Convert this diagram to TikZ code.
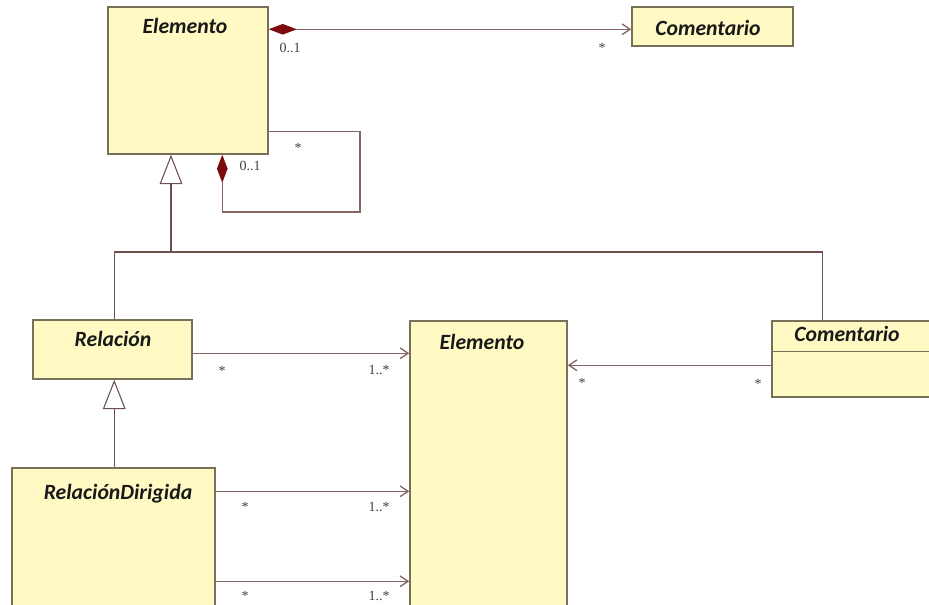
\documentclass[tikz,border=0pt]{standalone}
\usepackage{fontspec}
\setmainfont{Liberation Serif}
\newfontfamily\titlefont{Carlito}
\usetikzlibrary{arrows.meta,fit}
\definecolor{boxfill}{RGB}{255,250,195}
\definecolor{boxline}{RGB}{120,112,88}
\definecolor{conn}{RGB}{135,100,100}
\definecolor{diam}{RGB}{125,10,15}
\tikzset{
  cls/.style={draw=boxline, fill=boxfill, line width=1.1pt, rectangle, inner sep=0pt},
  ttl/.style={font=\titlefont\bfseries\itshape\fontsize{16.3}{18}\selectfont, inner sep=0pt, text=black!90},
  mult/.style={font=\fontsize{10.5}{12}\selectfont, inner sep=0pt, text=black!75},
  assoc/.style={draw=conn, line width=1.1pt, -{Straight Barb[length=6pt,width=8pt,line width=1pt]}},
  comp/.style={draw=conn, line width=1.1pt},
  genl/.style={draw=conn!80!black, line width=0.8pt},
  gentip/.style={-{Triangle[open,length=22pt,width=17pt,fill=white,line width=0.8pt]}},
  diamtip/.style={{Diamond[length=21pt,width=8pt,fill=diam,color=diam]}-}
}
\begin{document}
\begin{tikzpicture}[x=0.75pt,y=-0.75pt]
\useasboundingbox (0,0) rectangle (929,604);
\clip (0,0) rectangle (929,604);
\fill[white] (0,0) rectangle (929,604);
% boxes
\node[cls, fit={(108,7)(268,154)}] (e1) {};
\node[cls, fit={(632,7)(793,46)}] (c1) {};
\node[cls, fit={(33,320)(192,379)}] (rel) {};
\node[cls, fit={(12,468)(215,640)}] (rd) {};
\node[cls, fit={(410,321)(567,640)}] (el2) {};
\node[cls, fit={(772,321)(950,397)}] (c2) {};
\draw[boxline, line width=1.1pt] ([shift={(0,31)}]c2.north west) coordinate (c2d) -- (c2d -| c2.east);
% titles
\node[ttl] (t1) at (185,26) {Elemento};
\node[ttl] (t2) at (708,28) {Comentario};
\node[ttl] (t3) at (113,339) {Relación};
\node[ttl] (t4) at (118,494) {RelaciónDirigida};
\node[ttl] (t5) at (482,342) {Elemento};
\node[ttl] (t6) at (847,334) {Comentario};
% composition to Comentario
\draw[comp, {Diamond[length=21pt,width=8pt,fill=diam,color=diam]}-{Straight Barb[length=6pt,width=8pt,line width=1pt]}] ([shift={(0,23)}]e1.north east) coordinate (p1) -- (p1 -| c1.west);
% self composition loop
\coordinate (loopc) at (360,212);
\draw[comp, diamtip] ([shift={(115,0)}]e1.south west) |- (loopc) |- ([shift={(0,125)}]e1.north east);
% generalization tree
\coordinate (j) at (171,252);
\draw[genl] ([shift={(82,0)}]rel.north west) |- (j);
\draw[genl] ([shift={(51,0)}]c2.north west) |- (j);
\draw[genl, gentip] (j) -- (j |- e1.south);
\draw[genl, gentip] ([shift={(103,0)}]rd.north west) coordinate (q) -- (q |- rel.south);
% associations
\draw[assoc] ([shift={(0,34)}]rel.north east) coordinate (a1) -- (a1 -| el2.west);
\draw[assoc] ([shift={(0,24)}]rd.north east) coordinate (a2) -- (a2 -| el2.west);
\draw[assoc] ([shift={(0,114)}]rd.north east) coordinate (a3) -- (a3 -| el2.west);
\draw[assoc] ([shift={(0,45)}]c2.north west) coordinate (a4) -- (a4 -| el2.east);
% multiplicities
\node[mult] (m1) at (290,48) {0..1};
\node[mult] (m2) at (602,48) {*};
\node[mult] (m3) at (298,148) {*};
\node[mult] (m4) at (250,166) {0..1};
\node[mult] (m5) at (222,371) {*};
\node[mult] (m6) at (379,370) {1..*};
\node[mult] (m7) at (245,507) {*};
\node[mult] (m8) at (379,507) {1..*};
\node[mult] (m9) at (245,596) {*};
\node[mult] (m10) at (379,596) {1..*};
\node[mult] (m11) at (582,383) {*};
\node[mult] (m12) at (758,384) {*};
\end{tikzpicture}
\end{document}
